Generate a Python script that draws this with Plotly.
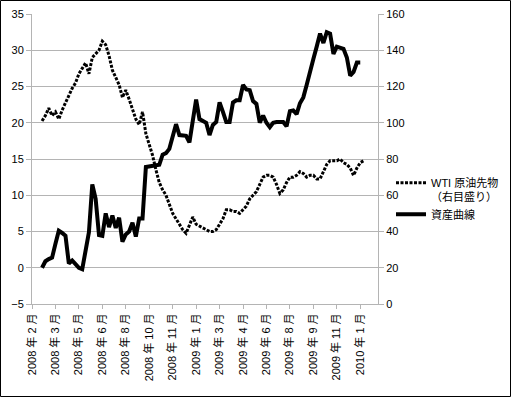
import plotly.graph_objects as go

# week index (x) of each sample
weeks = list(range(3, 100))

# 資産曲線 (left axis)
asset = [0.0, 0.9, 1.2, 1.4, 3.3, 5.1, 4.8, 4.4, 0.6, 1.0,
         0.5, 0.0, -0.2, 2.4, 4.9, 11.5, 9.5, 4.5, 4.4, 7.5,
         5.6, 7.2, 5.5, 6.9, 3.6, 4.6, 5.0, 6.2, 4.3, 6.8,
         6.8, 13.9, 14.0, 14.1, 14.1, 14.2, 15.6, 15.8, 16.4, 18.2,
         19.8, 18.3, 18.3, 18.2, 17.3, 20.0, 23.2, 20.5, 20.2, 20.0,
         18.3, 19.7, 20.1, 22.8, 21.5, 20.1, 20.1, 22.8, 23.1, 23.1,
         25.2, 24.6, 24.5, 23.0, 22.6, 20.0, 21.0, 20.0, 19.4, 20.0,
         20.1, 20.1, 20.1, 19.5, 21.6, 21.7, 21.2, 22.7, 23.5, 25.2,
         27.2, 28.8, 30.5, 32.3, 31.0, 32.5, 32.3, 29.5, 30.5, 30.4,
         30.2, 29.0, 26.5, 27.0, 28.3, 28.3, None]

# WTI 原油先物 (right axis)
wti = [101, 104, 108, 104, 106, 102, 107, 111, 115, 119,
       122, 127, 130, 133, 127, 136, 138, 140, 145, 143,
       137, 129, 125, 121, 114, 118, 113, 108, 102, 99,
       106, 94, 88, 82, 74, 67, 63, 60, 55, 50,
       47, 44, 41, 39, 44, 48, 44, 43, 42, 41,
       40, 40, 41, 44, 47, 52, 52, 51, 51, 50,
       52, 54, 58, 60, 62, 66, 70, 71, 71, 70,
       66, 61, 63, 67, 70, 70, 71, 73, 72, 70,
       71, 71, 69, 69, 73, 77, 79, 79, 79, 80,
       78, 77, 75, 71, 75, 78, 79]

tick_pos = [0, 7, 14, 21, 28, 35, 42, 49, 56, 63, 70, 77, 84, 91, 98]
tick_labels = ["2008 年 2 月", "2008 年 3 月", "2008 年 5 月", "2008 年 6 月",
               "2008 年 8 月", "2008 年 10 月", "2008 年 11 月", "2009 年 1 月",
               "2009 年 3 月", "2009 年 4 月", "2009 年 6 月", "2009 年 8 月",
               "2009 年 9 月", "2009 年 11 月", "2010 年 1 月"]

FONT = "Liberation Sans, Arial, Noto Sans CJK JP, sans-serif"
GRID = "#b4b4b4"

fig = go.Figure()
fig.add_trace(go.Scatter(
    x=weeks, y=wti, yaxis="y2", mode="lines",
    name="WTI 原油先物<br>（右目盛り）",
    line=dict(color="black", width=3, dash="3px,1.5px")))
fig.add_trace(go.Scatter(
    x=weeks, y=asset, yaxis="y", mode="lines",
    name="資産曲線",
    line=dict(color="black", width=4)))

L, R, T, B = 32, 133, 14, 94
W, H = 511, 398
pw, ph = W - L - R, H - T - B

fig.update_layout(
    width=W, height=H,
    margin=dict(l=L, r=R, t=T, b=B, pad=0, autoexpand=False),
    paper_bgcolor="white", plot_bgcolor="white",
    font=dict(family=FONT, size=11, color="black"),
    showlegend=True,
    legend=dict(x=(391 - L) / pw, xanchor="left",
                y=(H - B - 169) / ph, yanchor="top",
                bgcolor="rgba(0,0,0,0)", borderwidth=0,
                valign="top", tracegroupgap=0,
                font=dict(family=FONT, size=11, color="black")),
    xaxis=dict(range=[0, 103.3], tickvals=tick_pos, ticktext=tick_labels,
               tickangle=-90, showgrid=False, zeroline=False, automargin=False,
               showline=True, linecolor=GRID, linewidth=1,
               ticks="outside", ticklen=4, tickcolor=GRID,
               tickfont=dict(family=FONT, size=11, color="black")),
    yaxis=dict(range=[-5, 35], dtick=5, tick0=0, showgrid=True,
               gridcolor=GRID, gridwidth=1, zeroline=False, automargin=False,
               showline=True, linecolor=GRID, linewidth=1,
               ticks="outside", ticklen=5, tickcolor=GRID,
               tickfont=dict(family=FONT, size=11, color="black")),
    yaxis2=dict(range=[0, 160], dtick=20, overlaying="y", side="right",
                showgrid=False, zeroline=False, automargin=False,
                showline=True, linecolor=GRID, linewidth=1,
                ticks="outside", ticklen=5, tickcolor=GRID,
                tickfont=dict(family=FONT, size=11, color="black")),
)

# outer chart border
fig.add_shape(type="rect", xref="paper", yref="paper",
              x0=(0.5 - L) / pw, x1=(510.5 - L) / pw,
              y0=(H - B - 396.5) / ph, y1=(H - B - 0.5) / ph,
              line=dict(color="black", width=1), fillcolor="rgba(0,0,0,0)",
              layer="above")

fig.write_html("out.html",
               config={"displayModeBar": False},
               post_script="document.body.style.margin='0px';"
                           "document.body.style.overflow='hidden';")
